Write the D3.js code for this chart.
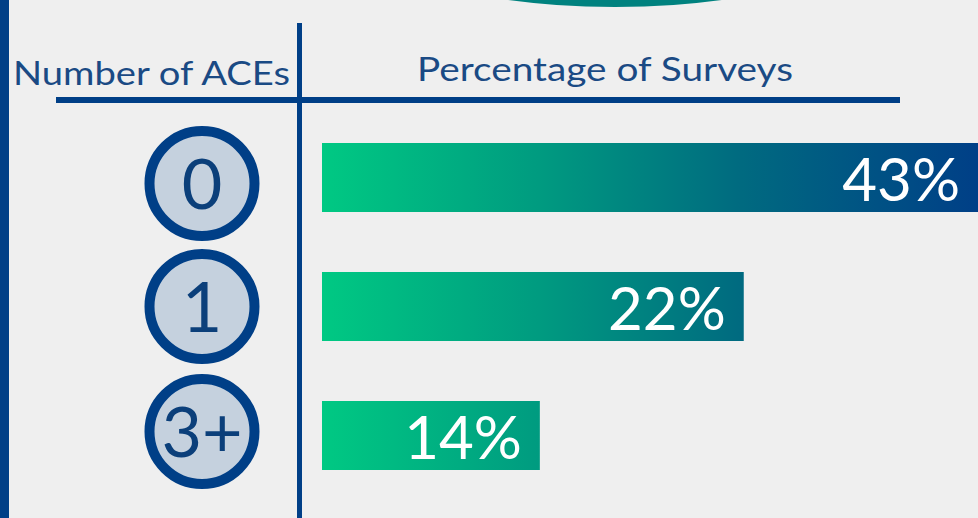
<!DOCTYPE html>
<html>
<head>
<meta charset="utf-8">
<script src="https://cdn.jsdelivr.net/npm/d3@7"></script>
<style>
  html, body { margin: 0; padding: 0; background: #efefef; }
  svg { display: block; font-family: Lato, 'Open Sans', sans-serif; }
</style>
</head>
<body>
<div id="chart"></div>
<script>
// ACE counts and share of surveys
const categories = ['0', '1', '3+'];
const percentages = [43, 22, 14];
const headers = ['Number of ACEs', 'Percentage of Surveys'];

const W = 978;
const H = 518;
const DARK = '#003f87';
const TEXT = '#1a4a84';

const svg = d3.select('#chart')
  .append('svg')
  .attr('width', W)
  .attr('height', H);

svg.append('rect')
  .attr('width', W)
  .attr('height', H)
  .attr('fill', '#efefef');

// gradient shared by the bars (spans the whole plotting width)
const grad = svg.append('defs')
  .append('linearGradient')
  .attr('id', 'barGrad')
  .attr('gradientUnits', 'userSpaceOnUse')
  .attr('x1', 322).attr('x2', W)
  .attr('y1', 0).attr('y2', 0);

[['0%', '#00c983'], ['33%', '#009b80'], ['64%', '#006a80'], ['100%', DARK]]
  .forEach(([o, c]) => grad.append('stop').attr('offset', o).attr('stop-color', c));

// decoration: teal shape peeking in at the top, left edge bar
svg.append('ellipse')
  .attr('cx', 615).attr('cy', -100)
  .attr('rx', 300).attr('ry', 107)
  .attr('fill', '#00827f');

svg.append('rect')
  .attr('x', 0).attr('y', 0)
  .attr('width', 9).attr('height', H)
  .attr('fill', DARK);

// scales
const barStart = 322;
const x = d3.scaleLinear()
  .domain([0, 43])
  .range([183, 1279]);

const y = d3.scaleBand()
  .domain(categories)
  .range([143, 470])
  .paddingInner(60 / 129)
  .paddingOuter(0);

// header rules
svg.append('line')
  .attr('x1', 299.5).attr('x2', 299.5)
  .attr('y1', 23).attr('y2', H)
  .attr('stroke', DARK).attr('stroke-width', 5);

svg.append('line')
  .attr('x1', 56).attr('x2', 900)
  .attr('y1', 100).attr('y2', 100)
  .attr('stroke', DARK).attr('stroke-width', 6);

svg.append('text')
  .attr('x', 13).attr('y', 85)
  .attr('fill', TEXT)
  .attr('font-size', 33)
  .attr('font-weight', 400)
  .attr('textLength', 277)
  .attr('lengthAdjust', 'spacingAndGlyphs')
  .text(headers[0]);

svg.append('text')
  .attr('x', 417).attr('y', 81)
  .attr('fill', TEXT)
  .attr('font-size', 33)
  .attr('font-weight', 400)
  .attr('textLength', 376)
  .attr('lengthAdjust', 'spacingAndGlyphs')
  .text(headers[1]);

const data = categories.map((c, i) => ({ cat: c, value: percentages[i] }));
const rowY = d => y(d.cat) + y.bandwidth() / 2;

// category badges
const badges = svg.selectAll('.badge')
  .data(data)
  .join('g')
  .attr('class', 'badge')
  .attr('transform', d => `translate(202,${rowY(d) + (d.cat === '0' ? 6 : d.cat === '3+' ? -4 : 0)})`);

badges.append('circle')
  .attr('r', 52.5)
  .attr('fill', '#c5d1de')
  .attr('stroke', DARK)
  .attr('stroke-width', 10);

badges.append('text')
  .attr('text-anchor', 'middle')
  .attr('y', 25)
  .attr('fill', '#0b3f7a')
  .attr('font-size', 70)
  .attr('font-weight', 400)
  .text(d => d.cat);

// bars
svg.selectAll('.bar')
  .data(data)
  .join('rect')
  .attr('class', 'bar')
  .attr('x', barStart)
  .attr('y', d => y(d.cat))
  .attr('width', d => x(d.value) - barStart)
  .attr('height', y.bandwidth())
  .attr('fill', 'url(#barGrad)');

svg.selectAll('.bar-label')
  .data(data)
  .join('text')
  .attr('class', 'bar-label')
  .attr('x', d => Math.min(x(d.value), W) - 18)
  .attr('y', d => rowY(d) + 23)
  .attr('text-anchor', 'end')
  .attr('fill', '#ffffff')
  .attr('font-size', 60)
  .attr('font-weight', 400)
  .text(d => `${d.value}%`);
</script>
</body>
</html>
